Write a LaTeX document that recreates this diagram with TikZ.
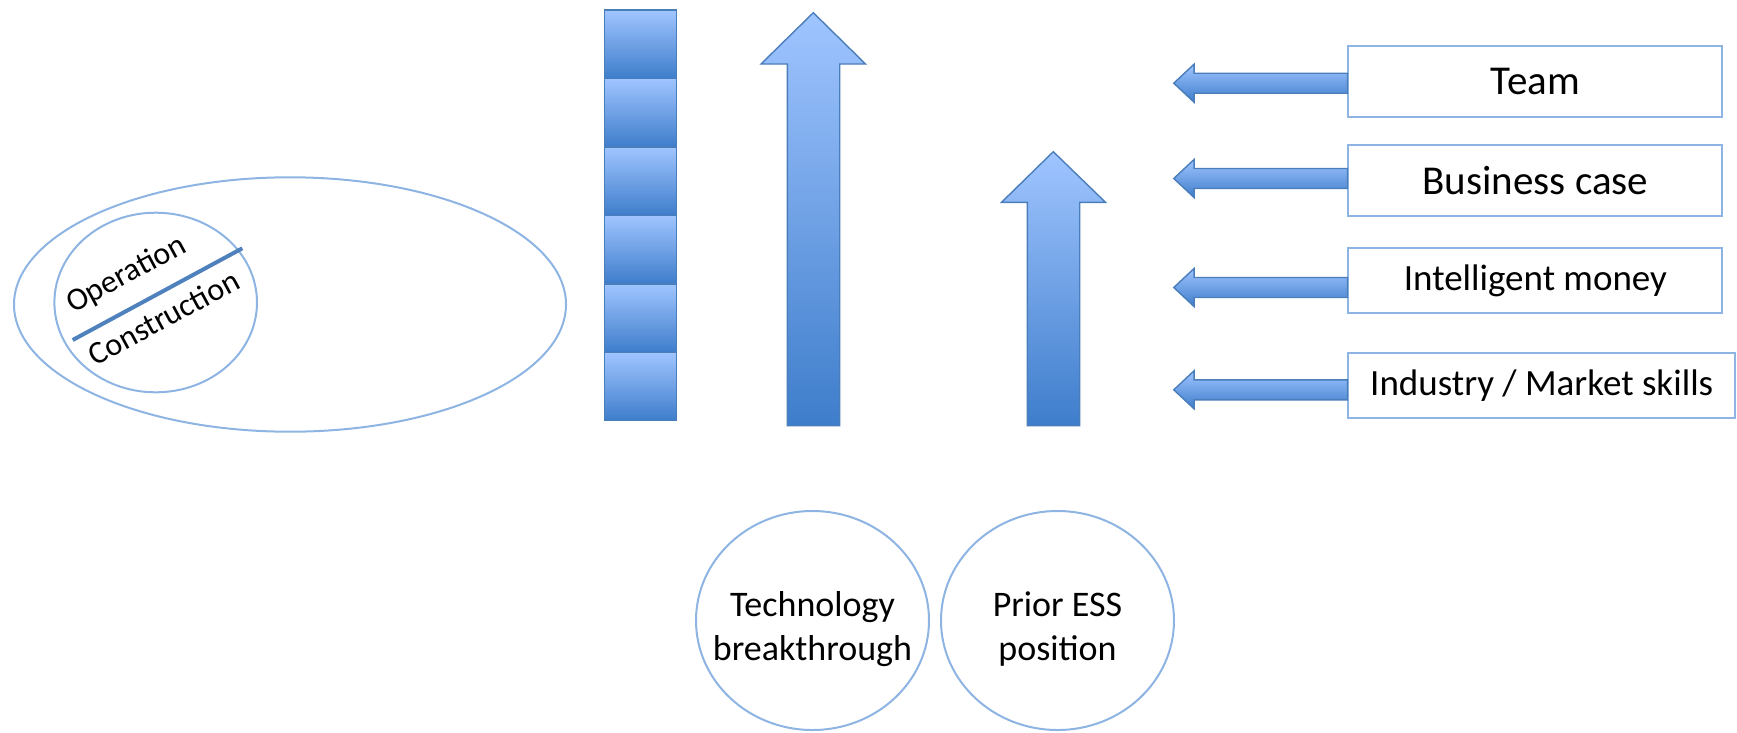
\documentclass[tikz,border=0pt]{standalone}
\usepackage{fontspec}
\setmainfont{Carlito}
\usetikzlibrary{calc,shapes.geometric}
\definecolor{outl}{RGB}{141,180,226}
\definecolor{gtop}{RGB}{160,197,255}
\definecolor{gbot}{RGB}{62,125,203}
\definecolor{gedge}{RGB}{74,126,187}
\definecolor{divline}{RGB}{79,129,189}
\begin{document}
\begin{tikzpicture}[x=1pt,y=-1pt,
  thinout/.style={draw=outl, line width=2pt},
  grad/.style={draw=gedge, line width=1.4pt, top color=gtop, bottom color=gbot},
  oval/.style={thinout, ellipse, inner sep=0pt},
  labelbox/.style={thinout, rectangle, inner sep=0pt},
  sq/.style={grad, rectangle, inner sep=0pt, minimum width=72pt, minimum height=68.45pt},
  bigtxt/.style={font=\fontsize{41}{49}\selectfont},
  midtxt/.style={font=\fontsize{37}{44}\selectfont},
  circtxt/.style={font=\fontsize{36}{44}\selectfont, align=center, inner sep=0pt},
  rottxt/.style={font=\fontsize{32}{38}\selectfont, rotate=28.5, inner sep=0pt}]
\useasboundingbox (0,0) rectangle (1737,732);

% left ellipse group
\node[oval, minimum width=552pt, minimum height=254.4pt] (outer) at (290,304.5) {};
\node[oval, minimum width=202.6pt, minimum height=179.6pt] (inner) at (155.7,302.5) {};
\coordinate (dl1) at (72.7,340);
\coordinate (dl2) at (242.3,248.3);
\draw[divline, line width=4pt] (dl1) -- (dl2);
\node[rottxt] (op) at (126.8,274.8) {Operation};
\node[rottxt] (con) at (163.5,317.6) {Construction};

% column of squares
\foreach \i in {0,...,5}
  \node[sq] (s\i) at (640.5,{10+68.45*(\i+0.5)}) {};

% big up arrows
\draw[grad] (787.3,425.7) -- (787.3,64) -- (761,64) -- (813.3,12.7) -- (865.5,64)
  -- (839.7,64) -- (839.7,425.7) -- cycle;
\draw[grad] (1027.3,425.7) -- (1027.3,202.3) -- (1001.5,202.3) -- (1053.3,151.7)
  -- (1105.5,202.3) -- (1079.7,202.3) -- (1079.7,425.7) -- cycle;

% right boxes
\node[labelbox, bigtxt, minimum width=373.9pt, minimum height=71pt] (b1) at (1535.4,81.2) {Team};
\node[labelbox, bigtxt, minimum width=373.9pt, minimum height=71pt] (b2) at (1535.4,180.5) {Business case};
\node[labelbox, midtxt, minimum width=373.9pt, minimum height=64.4pt] (b3) at (1535.4,280.5) {Intelligent money};
\node[labelbox, midtxt, minimum width=386.5pt, minimum height=65pt] (b4) at (1541.7,385.8) {Industry / Market skills};

% left-pointing arrows from the boxes
\foreach \b/\o in {b1/2, b2/-2, b3/7, b4/4}
  \draw[grad] ($(\b.west)+(0,\o-10)$) -- ++(-153.4,0) -- ++(0,-9) -- ++(-20.3,19)
    -- ++(20.3,19) -- ++(0,-9) -- ++(153.4,0) -- cycle;

% bottom circles
\node[oval, minimum width=233pt, minimum height=219pt] (tech) at (812.5,620.5) {};
\node[oval, minimum width=233pt, minimum height=219pt] (prior) at (1057.5,620.5) {};
\node[circtxt] (techtxt) at ($(tech.center)+(0,9)$) {Technology\\breakthrough};
\node[circtxt] (priortxt) at ($(prior.center)+(0,9)$) {Prior ESS\\position};
\end{tikzpicture}
\end{document}
